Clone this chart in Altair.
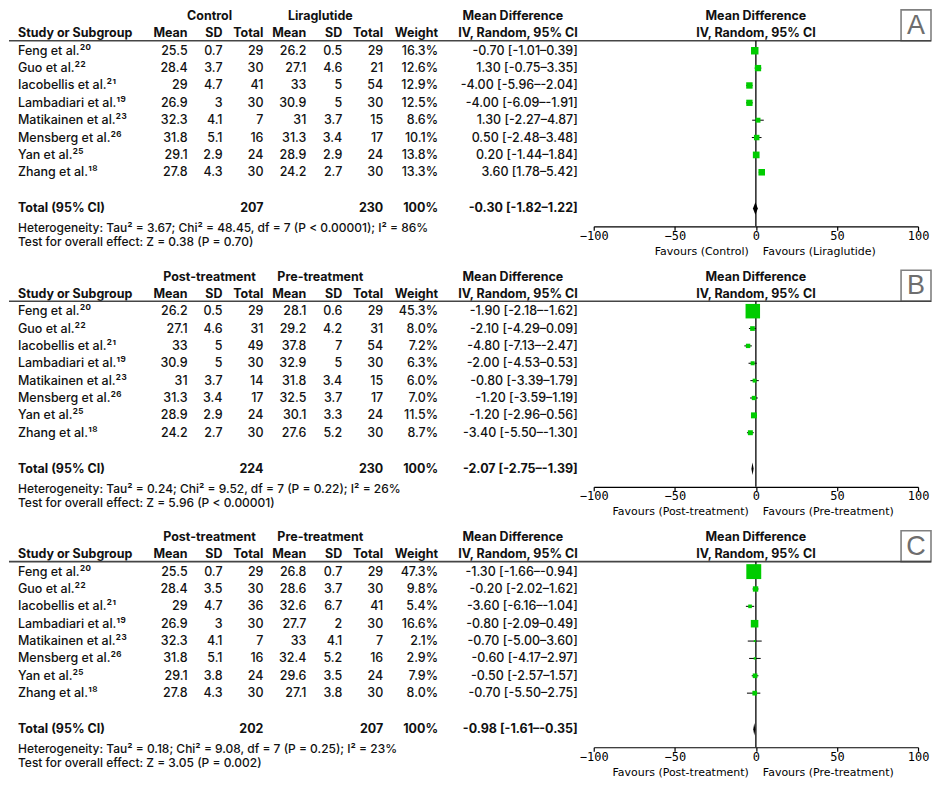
import altair as alt
import pandas as pd

# ---------------- data ----------------
STUDIES = ["Feng et al.²⁰", "Guo et al.²²", "Iacobellis et al.²¹", "Lambadiari et al.¹⁹",
           "Matikainen et al.²³", "Mensberg et al.²⁶", "Yan et al.²⁵", "Zhang et al.¹⁸"]

# Panel A
A_GROUPS = ["Control", "Liraglutide"]
A_M1 = [25.5, 28.4, 29, 26.9, 32.3, 31.8, 29.1, 27.8]
A_S1 = [0.7, 3.7, 4.7, 3, 4.1, 5.1, 2.9, 4.3]
A_N1 = [29, 30, 41, 30, 7, 16, 24, 30]
A_M2 = [26.2, 27.1, 33, 30.9, 31, 31.3, 28.9, 24.2]
A_S2 = [0.5, 4.6, 5, 5, 3.7, 3.4, 2.9, 2.7]
A_N2 = [29, 21, 54, 30, 15, 17, 24, 30]
A_W = [16.3, 12.6, 12.9, 12.5, 8.6, 10.1, 13.8, 13.3]
A_MD = [-0.70, 1.30, -4.00, -4.00, 1.30, 0.50, 0.20, 3.60]
A_LO = [-1.01, -0.75, -5.96, -6.09, -2.27, -2.48, -1.44, 1.78]
A_HI = [0.39, 3.35, -2.04, -1.91, 4.87, 3.48, 1.84, 5.42]
A_TOT_N = [207, 230]
A_TOT_CI = [-0.30, -1.82, 1.22]
A_HET = "Heterogeneity: Tau² = 3.67; Chi²  = 48.45, df = 7 (P < 0.00001); I² = 86%"
A_TEST = "Test for overall effect: Z = 0.38 (P = 0.70)"
A_FAV = ["Favours (Control)", "Favours (Liraglutide)"]

# Panel B
B_GROUPS = ["Post-treatment", "Pre-treatment"]
B_M1 = [26.2, 27.1, 33, 30.9, 31, 31.3, 28.9, 24.2]
B_S1 = [0.5, 4.6, 5, 5, 3.7, 3.4, 2.9, 2.7]
B_N1 = [29, 31, 49, 30, 14, 17, 24, 30]
B_M2 = [28.1, 29.2, 37.8, 32.9, 31.8, 32.5, 30.1, 27.6]
B_S2 = [0.6, 4.2, 7, 5, 3.4, 3.7, 3.3, 5.2]
B_N2 = [29, 31, 54, 30, 15, 17, 24, 30]
B_W = [45.3, 8.0, 7.2, 6.3, 6.0, 7.0, 11.5, 8.7]
B_MD = [-1.90, -2.10, -4.80, -2.00, -0.80, -1.20, -1.20, -3.40]
B_LO = [-2.18, -4.29, -7.13, -4.53, -3.39, -3.59, -2.96, -5.50]
B_HI = [-1.62, 0.09, -2.47, 0.53, 1.79, 1.19, 0.56, -1.30]
B_TOT_N = [224, 230]
B_TOT_CI = [-2.07, -2.75, -1.39]
B_HET = "Heterogeneity: Tau² = 0.24; Chi²  = 9.52, df = 7 (P = 0.22); I² = 26%"
B_TEST = "Test for overall effect: Z = 5.96 (P < 0.00001)"
B_FAV = ["Favours (Post-treatment)", "Favours (Pre-treatment)"]

# Panel C
C_GROUPS = ["Post-treatment", "Pre-treatment"]
C_M1 = [25.5, 28.4, 29, 26.9, 32.3, 31.8, 29.1, 27.8]
C_S1 = [0.7, 3.5, 4.7, 3, 4.1, 5.1, 3.8, 4.3]
C_N1 = [29, 30, 36, 30, 7, 16, 24, 30]
C_M2 = [26.8, 28.6, 32.6, 27.7, 33, 32.4, 29.6, 27.1]
C_S2 = [0.7, 3.7, 6.7, 2, 4.1, 5.2, 3.5, 3.8]
C_N2 = [29, 30, 41, 30, 7, 16, 24, 30]
C_W = [47.3, 9.8, 5.4, 16.6, 2.1, 2.9, 7.9, 8.0]
C_MD = [-1.30, -0.20, -3.60, -0.80, -0.70, -0.60, -0.50, -0.70]
C_LO = [-1.66, -2.02, -6.16, -2.09, -5.00, -4.17, -2.57, -5.50]
C_HI = [-0.94, 1.62, -1.04, 0.49, 3.60, 2.97, 1.57, 2.75]
C_TOT_N = [202, 207]
C_TOT_CI = [-0.98, -1.61, -0.35]
C_HET = "Heterogeneity: Tau² = 0.18; Chi²  = 9.08, df = 7 (P = 0.25); I² = 23%"
C_TEST = "Test for overall effect: Z = 3.05 (P = 0.002)"
C_FAV = ["Favours (Post-treatment)", "Favours (Pre-treatment)"]

COL_HEADERS = ["Mean", "SD", "Total", "Mean", "SD", "Total", "Weight"]

# ---------------- layout / style ----------------
FONT = "Inter"
INK = "#111111"
GREEN = "#00cc00"
W = 924
H = 218
ROW0 = 42.0
STEP = 17.4


def R(px):
    return (px - ROW0) / STEP


Y0, Y1 = R(0), R(H)
R_H1, R_H2, R_LINE = R(7.5), R(24.5), R(32)
R_TOT, R_HET, R_TEST, R_FAV = R(200), R(220), R(234), R(243.5)
YS = alt.Scale(domain=[Y0, Y1], range=[0, H], nice=False, zero=False)
XS = alt.Scale(domain=[-100, 100], range=[586, 911], nice=False, zero=False)
AX = alt.Axis(values=[-100, -50, 0, 50, 100], grid=False, title=None, orient="bottom",
              domainColor="#000000", domainWidth=1.2, tickColor="#000000", tickWidth=1.2,
              tickSize=4, labelFont="DejaVu Sans Mono", labelFontSize=12,
              labelColor="#000000", labelPadding=0, labelFlush=False)
COLX = [179, 214, 255, 298, 334, 375, 430]
X_STUDY, X_MD, X_G1, X_G2, X_MDH = 9, 570, 201, 312, 505


def fmt(v):
    return f"{v:g}"


def ci_text(m, lo, hi):
    return f"{m:.2f} [{lo:.2f}–{hi:.2f}]"


def yenc(field="r"):
    return alt.Y(f"{field}:Q", scale=YS, axis=None)


def label(text, x, r, align="left", bold=False, size=12.5, font=FONT, color=INK):
    return alt.Chart(pd.DataFrame({"t": [text], "r": [r]})).mark_text(
        align=align, baseline="middle", font=font, fontSize=size,
        fontWeight="bold" if bold else 500, color=color
    ).encode(x=x if not isinstance(x, (int, float)) else alt.value(x), y=yenc(), text="t:N")


def column(df, field, x, align="right", bold=False):
    return alt.Chart(df).mark_text(
        align=align, baseline="middle", font=FONT, fontSize=12.5,
        fontWeight="bold" if bold else 500, color=INK
    ).encode(x=alt.value(x), y=yenc(), text=f"{field}:N")


def panel(letter, groups, m1, s1, n1, m2, s2, n2, w, md, lo, hi, tot_n, tot_ci, het, test, fav):
    n = len(STUDIES)
    rows = pd.DataFrame({
        "r": list(range(n)),
        "study": STUDIES,
        "c0": [fmt(v) for v in m1], "c1": [fmt(v) for v in s1], "c2": [fmt(v) for v in n1],
        "c3": [fmt(v) for v in m2], "c4": [fmt(v) for v in s2], "c5": [fmt(v) for v in n2],
        "c6": [f"{v:.1f}%" for v in w],
        "mdtxt": [ci_text(a, b, c) for a, b, c in zip(md, lo, hi)],
        "wv": w, "md": md, "lo": lo, "hi": hi,
    })
    tot = pd.DataFrame({"r": [R_TOT], "study": ["Total (95% CI)"],
                        "c2": [str(tot_n[0])], "c5": [str(tot_n[1])], "c6": ["100%"],
                        "mdtxt": [ci_text(*tot_ci)]})
    h = 0.36
    dia = pd.DataFrame({"x": [tot_ci[1], tot_ci[0], tot_ci[2]],
                        "y": [R_TOT, R_TOT - h, R_TOT], "y2": [R_TOT, R_TOT + h, R_TOT]})
    one = pd.DataFrame({"k": [letter]})
    x0 = alt.XDatum(0, scale=XS, axis=AX)

    layers = []
    # panel letter box
    layers.append(alt.Chart(one).mark_rect(fillOpacity=0, stroke="#808080", strokeWidth=1.6).encode(
        x=alt.value(894), x2=alt.value(924), y=alt.value(1), y2=alt.value(32)))
    layers.append(alt.Chart(one).mark_text(font="Liberation Sans", fontSize=27, color="#6e6e6e",
                                           align="center", baseline="middle").encode(
        x=alt.value(909), y=alt.value(17), text="k:N"))
    # headers
    layers.append(label(groups[0], X_G1, R_H1, align="center", bold=True))
    layers.append(label(groups[1], X_G2, R_H1, align="center", bold=True))
    layers.append(label("Mean Difference", X_MDH, R_H1, align="center", bold=True))
    layers.append(label("Mean Difference", x0, R_H1, align="center", bold=True))
    layers.append(label("Study or Subgroup", X_STUDY, R_H2, bold=True))
    for hx, ht in zip(COLX, COL_HEADERS):
        layers.append(label(ht, hx, R_H2, align="right", bold=True))
    layers.append(label("IV, Random, 95% CI", X_MD, R_H2, align="right", bold=True))
    layers.append(label("IV, Random, 95% CI", x0, R_H2, align="center", bold=True))
    layers.append(alt.Chart(one).mark_rule(color="#454545", strokeWidth=1.6).encode(
        x=alt.value(0), x2=alt.value(W), y=alt.YDatum(R_LINE, scale=YS, axis=None)))
    # table body
    layers.append(column(rows, "study", X_STUDY, align="left"))
    for i, cx in enumerate(COLX):
        layers.append(column(rows, f"c{i}", cx))
    layers.append(column(rows, "mdtxt", X_MD))
    # totals
    layers.append(column(tot, "study", X_STUDY, align="left", bold=True))
    for f, cx in (("c2", COLX[2]), ("c5", COLX[5]), ("c6", COLX[6])):
        layers.append(column(tot, f, cx, bold=True))
    layers.append(column(tot, "mdtxt", X_MD, bold=True))
    layers.append(label(het, X_STUDY, R_HET, size=12))
    layers.append(label(test, X_STUDY, R_TEST, size=12))
    # forest plot
    layers.append(alt.Chart(one).mark_rule(color="#000000", strokeWidth=1.3).encode(
        x=x0, y=alt.YDatum(R_LINE, scale=YS, axis=None), y2=alt.Y2Datum(Y1)))
    layers.append(alt.Chart(rows).mark_rule(color="#000000", strokeWidth=1).encode(
        x=alt.X("lo:Q", scale=XS, axis=AX), x2="hi:Q", y=yenc()))
    layers.append(alt.Chart(rows).mark_square(filled=True, color=GREEN, opacity=1).encode(
        x=alt.X("md:Q", scale=XS, axis=AX), y=yenc(),
        size=alt.Size("wv:Q", scale=alt.Scale(type="pow", exponent=1.3, domain=[0, 50], range=[0, 240]),
                      legend=None)))
    layers.append(alt.Chart(dia).mark_area(color="#000000", orient="vertical").encode(
        x=alt.X("x:Q", scale=XS, axis=AX), y=yenc("y"), y2="y2:Q"))
    fl = alt.Chart(one).mark_text(align="right", baseline="middle", font="DejaVu Sans",
                                  fontSize=11, color="#000000", dx=-7, text=fav[0]).encode(
        x=x0, y=alt.YDatum(R_FAV, scale=YS, axis=None))
    fr = alt.Chart(one).mark_text(align="left", baseline="middle", font="DejaVu Sans",
                                  fontSize=11, color="#000000", dx=7, text=fav[1]).encode(
        x=x0, y=alt.YDatum(R_FAV, scale=YS, axis=None))
    layers += [fl, fr]
    return alt.layer(*layers).properties(width=W, height=H)


pa = panel("A", A_GROUPS, A_M1, A_S1, A_N1, A_M2, A_S2, A_N2, A_W, A_MD, A_LO, A_HI,
           A_TOT_N, A_TOT_CI, A_HET, A_TEST, A_FAV)
pb = panel("B", B_GROUPS, B_M1, B_S1, B_N1, B_M2, B_S2, B_N2, B_W, B_MD, B_LO, B_HI,
           B_TOT_N, B_TOT_CI, B_HET, B_TEST, B_FAV)
pc = panel("C", C_GROUPS, C_M1, C_S1, C_N1, C_M2, C_S2, C_N2, C_W, C_MD, C_LO, C_HI,
           C_TOT_N, C_TOT_CI, C_HET, C_TEST, C_FAV)

chart = alt.vconcat(pa, pb, pc, spacing=43, bounds="flush", padding=0).configure_view(stroke=None)
chart.save("out.html", embed_options={"renderer": "svg", "actions": False})
